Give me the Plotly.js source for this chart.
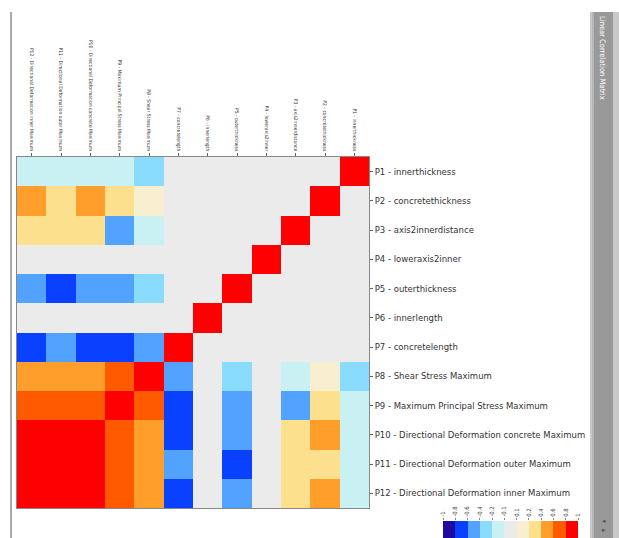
<!DOCTYPE html>
<html>
<head>
<meta charset="utf-8">
<script src="https://cdn.plot.ly/plotly-3.0.1.min.js"></script>
<style>html,body{margin:0;padding:0;background:#fff;}#chart{width:619px;height:538px;}</style>
</head>
<body>
<div id="chart"></div>
<script>
// Column order (left to right) and row order (top to bottom)
var colLabels = [
  "P12 - Directional Deformation inner Maximum",
  "P11 - Directional Deformation outer Maximum",
  "P10 - Directional Deformation concrete Maximum",
  "P9 - Maximum Principal Stress Maximum",
  "P8 - Shear Stress Maximum",
  "P7 - concretelength",
  "P6 - innerlength",
  "P5 - outerthickness",
  "P4 - loweraxis2inner",
  "P3 - axis2innerdistance",
  "P2 - concretethickness",
  "P1 - innerthickness"
];
var rowLabels = [
  "P1 - innerthickness",
  "P2 - concretethickness",
  "P3 - axis2innerdistance",
  "P4 - loweraxis2inner",
  "P5 - outerthickness",
  "P6 - innerlength",
  "P7 - concretelength",
  "P8 - Shear Stress Maximum",
  "P9 - Maximum Principal Stress Maximum",
  "P10 - Directional Deformation concrete Maximum",
  "P11 - Directional Deformation outer Maximum",
  "P12 - Directional Deformation inner Maximum"
];
// correlation values (estimated from colour bins)
var corrP1  = [-0.15,-0.15,-0.15,-0.15,-0.3, 0, 0, 0, 0, 0, 0, 1];
var corrP2  = [0.5, 0.3, 0.5, 0.3, 0.15, 0, 0, 0, 0, 0, 1, 0];
var corrP3  = [0.3, 0.3, 0.3, -0.5, -0.15, 0, 0, 0, 0, 1, 0, 0];
var corrP4  = [0, 0, 0, 0, 0, 0, 0, 0, 1, 0, 0, 0];
var corrP5  = [-0.5, -0.7, -0.5, -0.5, -0.3, 0, 0, 1, 0, 0, 0, 0];
var corrP6  = [0, 0, 0, 0, 0, 0, 1, 0, 0, 0, 0, 0];
var corrP7  = [-0.7, -0.5, -0.7, -0.7, -0.5, 1, 0, 0, 0, 0, 0, 0];
var corrP8  = [0.5, 0.5, 0.5, 0.7, 1, -0.5, 0, -0.3, 0, -0.15, 0.15, -0.3];
var corrP9  = [0.7, 0.7, 0.7, 1, 0.7, -0.7, 0, -0.5, 0, -0.5, 0.3, -0.15];
var corrP10 = [0.9, 0.9, 1, 0.7, 0.5, -0.7, 0, -0.5, 0, 0.3, 0.5, -0.15];
var corrP11 = [0.9, 1, 0.9, 0.7, 0.5, -0.5, 0, -0.7, 0, 0.3, 0.3, -0.15];
var corrP12 = [1, 0.9, 0.9, 0.7, 0.5, -0.7, 0, -0.5, 0, 0.3, 0.5, -0.15];

// colour legend bins
var binEdges  = [-1, -0.8, -0.6, -0.4, -0.2, -0.1, 0.1, 0.2, 0.4, 0.6, 0.8, 1];
var binLabels = ["-1","-0.8","-0.6","-0.4","-0.2","-0.1","0.1","0.2","0.4","0.6","0.8","1"];
var binMids   = [-0.9, -0.7, -0.5, -0.3, -0.15, 0, 0.15, 0.3, 0.5, 0.7, 0.9];
var binColors = ["#1e0b9e","#0a40ff","#52a2ff","#8adcff","#c9f1f4","#ebebeb","#f7efcf","#fde08e","#ff9e2b","#ff5a00","#ff0000"];

var z = [corrP1,corrP2,corrP3,corrP4,corrP5,corrP6,corrP7,corrP8,corrP9,corrP10,corrP11,corrP12];

var cs = [];
for (var i = 0; i < binColors.length; i++) {
  cs.push([(binEdges[i]+1)/2, binColors[i]]);
  cs.push([(binEdges[i+1]+1)/2, binColors[i]]);
}
var binIdx = binMids.map(function(_, i){ return i; });
var W = 619, H = 538;
function fx(p){ return p / W; }
function fy(p){ return 1 - p / H; }

var traces = [
  {type:'heatmap', x: colLabels, y: rowLabels, z: z, colorscale: cs, zmin:-1, zmax:1,
   showscale:false, xaxis:'x', yaxis:'y', xgap:0, ygap:0},
  {type:'heatmap', x: binIdx, y: [0], z: [binMids], colorscale: cs, zmin:-1, zmax:1,
   showscale:false, xaxis:'x2', yaxis:'y2'}
];

var layout = {
  width: W, height: H,
  margin: {l:0, r:0, t:0, b:0},
  paper_bgcolor:'#ffffff', plot_bgcolor:'#ffffff',
  showlegend:false,
  xaxis: {domain:[fx(17), fx(369)], anchor:'y', side:'top', type:'category',
          tickangle:90, ticks:'outside', ticklen:3, tickcolor:'#666',
          tickfont:{family:'Liberation Sans Narrow, DejaVu Sans Condensed, sans-serif', size:5, color:'#333'},
          showline:true, linecolor:'#888', mirror:true, showgrid:false, zeroline:false, fixedrange:true},
  yaxis: {domain:[fy(508), fy(157)], anchor:'x', side:'right', type:'category', autorange:'reversed',
          ticks:'outside', ticklen:3, tickcolor:'#666',
          tickfont:{family:'DejaVu Sans, sans-serif', size:8.5, color:'#333'},
          showline:true, linecolor:'#888', mirror:true, showgrid:false, zeroline:false, fixedrange:true},
  xaxis2: {domain:[fx(443), fx(578)], anchor:'y2', side:'top', range:[-0.5, binMids.length-0.5],
           tickvals: binEdges.map(function(_, i){ return i-0.5; }), ticktext: binLabels,
           tickangle:-90, ticks:'outside', ticklen:2, tickcolor:'#888',
           tickfont:{family:'DejaVu Sans Condensed, sans-serif', size:6, color:'#444'},
           showline:false, showgrid:false, zeroline:false, fixedrange:true},
  yaxis2: {domain:[0, fy(521)], anchor:'x2', showticklabels:false, showgrid:false, zeroline:false,
           ticks:'', range:[-0.5, 0.5], fixedrange:true},
  shapes: [
    {type:'line', xref:'paper', yref:'paper', x0:fx(11), x1:fx(11), y0:fy(12), y1:0, line:{color:'#aaaaaa', width:2}},
    {type:'rect', xref:'paper', yref:'paper', x0:fx(590), x1:fx(619), y0:0, y1:fy(12), fillcolor:'#c8c8c8', line:{width:0}, layer:'below'},
    {type:'rect', xref:'paper', yref:'paper', x0:fx(592), x1:fx(613), y0:0, y1:fy(12), fillcolor:'#999999', line:{width:0}, layer:'below'},
    {type:'rect', xref:'paper', yref:'paper', x0:fx(592), x1:fx(594), y0:0, y1:fy(12), fillcolor:'#b5b5b5', line:{width:0}, layer:'below'}
  ],
  annotations: [
    {text:'Linear Correlation Matrix', xref:'paper', yref:'paper', x:fx(602), y:fy(14),
     xanchor:'center', yanchor:'top', textangle:90, showarrow:false,
     font:{family:'Liberation Sans Narrow, DejaVu Sans Condensed, sans-serif', size:7.5, color:'#ffffff'}},
    {text:'◂', xref:'paper', yref:'paper', x:fx(604), y:fy(521), xanchor:'center', yanchor:'middle', showarrow:false,
     font:{family:'DejaVu Sans', size:7, color:'#555'}},
    {text:'▸', xref:'paper', yref:'paper', x:fx(604), y:fy(530), xanchor:'center', yanchor:'middle', showarrow:false,
     font:{family:'DejaVu Sans', size:7, color:'#555'}}
  ]
};

Plotly.newPlot('chart', traces, layout, {displayModeBar:false, staticPlot:true});
</script>
</body>
</html>
